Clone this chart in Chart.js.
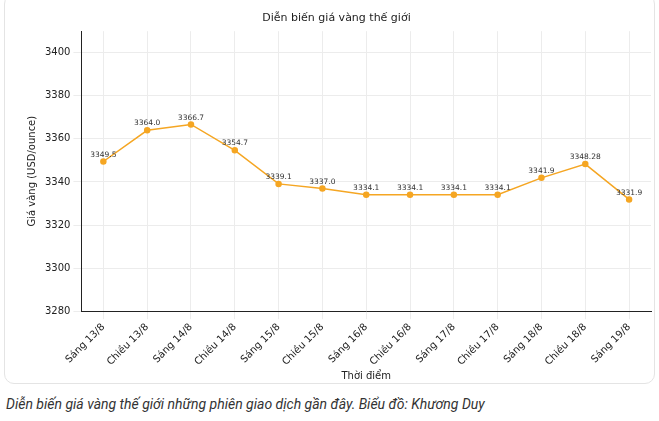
<!DOCTYPE html>
<html><head><meta charset="utf-8">
<script src="https://cdn.jsdelivr.net/npm/chart.js@4"></script>
<style>
body{margin:0;background:#fff;font-family:"DejaVu Sans",sans-serif;}
#card{position:absolute;left:4px;top:-6px;width:651px;height:390px;border:1px solid #e4e4e4;border-radius:10px;box-sizing:border-box;}
#wrap{position:absolute;left:0;top:0;width:659px;height:384px;}
#cap{position:absolute;left:6px;top:396px;font-family:Roboto,sans-serif;font-style:italic;font-size:14px;color:#333;}
</style></head><body>
<div id="card"></div>
<div id="wrap"><canvas id="c"></canvas></div>
<div id="cap">Diễn biến giá vàng thế giới những phiên giao dịch gần đây. Biểu đồ: Khương Duy</div>
<script>
const categories=["Sáng 13/8","Chiều 13/8","Sáng 14/8","Chiều 14/8","Sáng 15/8","Chiều 15/8","Sáng 16/8","Chiều 16/8","Sáng 17/8","Chiều 17/8","Sáng 18/8","Chiều 18/8","Sáng 19/8"];
const prices=[3349.5,3364.0,3366.7,3354.7,3339.1,3337.0,3334.1,3334.1,3334.1,3334.1,3341.9,3348.28,3331.9];
const labels=["3349.5","3364.0","3366.7","3354.7","3339.1","3337.0","3334.1","3334.1","3334.1","3334.1","3341.9","3348.28","3331.9"];
const yTicks=[3280,3300,3320,3340,3360,3380,3400];
const lbl={id:'lbl',afterDatasetsDraw(ch){const c=ch.ctx;const m=ch.getDatasetMeta(0);c.save();c.font='7.5px "DejaVu Sans"';c.fillStyle='#333';c.textAlign='center';c.textBaseline='bottom';m.data.forEach((p,i)=>c.fillText(labels[i],p.x,p.y-3));c.restore();}};
new Chart(document.getElementById('c'),{type:'line',
data:{labels:categories,datasets:[{data:prices,borderColor:'#f5a623',backgroundColor:'#f5a623',borderWidth:1.5,pointRadius:2.5,tension:0}]},
options:{responsive:true,maintainAspectRatio:false,animation:false,
layout:{padding:{left:22,right:8,top:8,bottom:0}},
plugins:{legend:{display:false},tooltip:{enabled:false},
title:{display:true,text:'Diễn biến giá vàng thế giới',color:'#222',font:{family:'DejaVu Sans',size:11,weight:'normal'},padding:{top:4,bottom:6}}},
scales:{x:{offset:true,grid:{color:'#ececec',offset:false},border:{color:'#222'},
ticks:{color:'#222',font:{family:'DejaVu Sans',size:10},maxRotation:45,minRotation:45,autoSkip:false,padding:2},
title:{display:true,text:'Thời điểm',color:'#222',font:{family:'DejaVu Sans',size:10},padding:{top:0,bottom:2}}},
y:{min:3280,max:3410,afterBuildTicks(a){a.ticks=yTicks.map(v=>({value:v}));},grid:{color:'#ececec'},border:{color:'#222'},
ticks:{color:'#222',font:{family:'DejaVu Sans',size:10},callback:v=>String(v)},
title:{display:true,text:'Giá vàng (USD/ounce)',color:'#222',font:{family:'DejaVu Sans',size:10}}}}},
plugins:[lbl]});
</script></body></html>
